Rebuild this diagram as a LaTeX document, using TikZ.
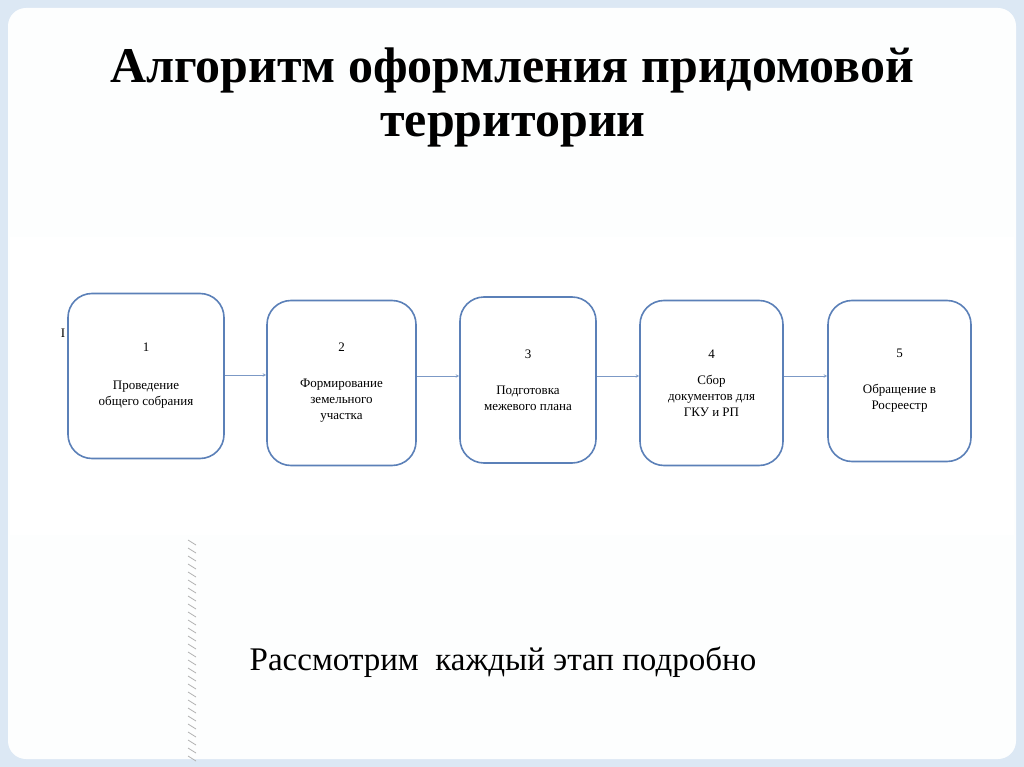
\documentclass[tikz,border=0pt]{standalone}
\usepackage{fontspec}
\setmainfont{Liberation Serif}
\begin{document}
\begin{tikzpicture}[x=1pt,y=-1pt,
  stepbox/.style={draw=boxblue,line width=1.6pt,rounded corners=24pt,fill=white,align=center,font=\fontsize{13}{16}\selectfont,inner sep=2pt},
  arr/.style={->,draw=boxblue!80,line width=0.6pt,>=stealth}]
\definecolor{boxblue}{HTML}{5B80B8}
\definecolor{bg}{HTML}{DCE8F4}
\fill[bg] (0,0) rectangle (1024,767);
\useasboundingbox (0,0) rectangle (1024,767);
\fill[white!94!bg,rounded corners=18pt] (8,8) rectangle (1016,759);
\fill[white] (10,237) rectangle (1014,535);
\foreach \y in {540,548,...,756} \draw[gray!60,line width=0.8pt] (188,\y) -- (196,\y+5);
\node[font=\bfseries\fontsize{50}{56}\selectfont] (t1) at (512,70) {Алгоритм оформления придомовой};
\node[font=\bfseries\fontsize{50}{56}\selectfont] (t2) at (513,130) {территории};
\node[stepbox,minimum width=156pt,minimum height=165pt] (b1) at (146,376) {1\\[22pt]Проведение\\общего собрания};
\node[stepbox,minimum width=149pt,minimum height=165pt] (b2) at (341.5,383) {2\\[20pt]Формирование\\земельного\\участка};
\node[stepbox,minimum width=136pt,minimum height=166pt] (b3) at (528,380) {3\\[20pt]Подготовка\\межевого плана};
\node[stepbox,minimum width=143pt,minimum height=165pt] (b4) at (711.5,383) {4\\[10pt]Сбор\\документов для\\ГКУ и РП};
\node[stepbox,minimum width=143pt,minimum height=161pt] (b5) at (899.5,381) {5\\[20pt]Обращение в\\Росреестр};
\draw[arr] (b1.east |- 0,375) -- (b2.west |- 0,375);
\draw[arr] (b2.east |- 0,376) -- (b3.west |- 0,376);
\draw[arr] (b3.east |- 0,376) -- (b4.west |- 0,376);
\draw[arr] (b4.east |- 0,376) -- (b5.west |- 0,376);
\node[font=\fontsize{13}{15}\selectfont] (i) at (63,333) {I};
\node[font=\fontsize{33}{38}\selectfont] (bt) at (503,662) {Рассмотрим\ \ каждый этап подробно};
\end{tikzpicture}
\end{document}
